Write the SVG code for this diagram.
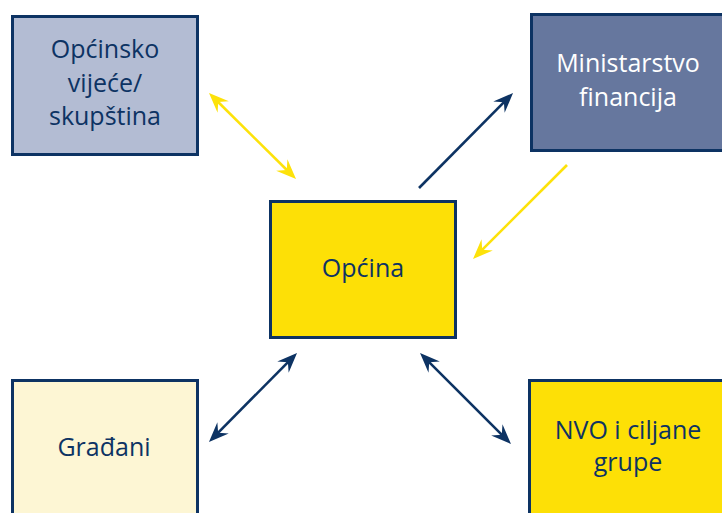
<svg xmlns="http://www.w3.org/2000/svg" width="722" height="513" viewBox="0 0 722 513">
<style>
.box{stroke:#0d3363;stroke-width:3}
.t{font-family:"Open Sans","Noto Sans",sans-serif;font-size:25px;fill:#0d3363;text-anchor:middle}
.w{fill:#ffffff}
.ln{fill:none;stroke-width:2.6}
.nv{stroke:#0d3363}
.yl{stroke:#fde20a}
</style>
<defs>
<marker id="hn" markerUnits="userSpaceOnUse" viewBox="-11 -9 22 18" markerWidth="22" markerHeight="18" refX="0" refY="0" orient="auto-start-reverse">
<path d="M10,0 L-10,-8 L-3,0 L-10,8 Z" fill="#0d3363"/>
</marker>
<marker id="hy" markerUnits="userSpaceOnUse" viewBox="-11 -9 22 18" markerWidth="22" markerHeight="18" refX="0" refY="0" orient="auto-start-reverse">
<path d="M10,0 L-10,-8 L-3,0 L-10,8 Z" fill="#fde20a"/>
</marker>
</defs>
<rect width="722" height="513" fill="#ffffff"/>
<g id="vijece">
<rect class="box" x="12.5" y="16.5" width="185" height="138" fill="#b3bcd3"/>
<text class="t" x="105" y="58">Općinsko</text>
<text class="t" x="105" y="92">vijeće/</text>
<text class="t" x="105" y="125">skupština</text>
</g>
<g id="ministarstvo">
<rect class="box" x="531.5" y="14.5" width="205" height="136" fill="#66779e"/>
<text class="t w" x="628" y="72">Ministarstvo</text>
<text class="t w" x="628" y="106">financija</text>
</g>
<g id="opcina">
<rect class="box" x="270.5" y="201.5" width="185" height="136" fill="#fde006"/>
<text class="t" x="363" y="277">Općina</text>
</g>
<g id="gradani">
<rect class="box" x="12.5" y="380.5" width="185" height="145" fill="#fdf6d4"/>
<text class="t" x="104" y="456">Građani</text>
</g>
<g id="nvo">
<rect class="box" x="529.5" y="380.5" width="205" height="145" fill="#fde006"/>
<text class="t" x="628" y="439">NVO i ciljane</text>
<text class="t" x="628" y="471">grupe</text>
</g>
<g id="connectors">
<path class="ln yl" d="M216.1,100 L288.9,172" marker-start="url(#hy)" marker-end="url(#hy)"/>
<path class="ln nv" d="M419,188 L506,100.1" marker-end="url(#hn)"/>
<path class="ln yl" d="M567,165 L480.1,251.9" marker-end="url(#hy)"/>
<path class="ln nv" d="M290,360.1 L216,434.9" marker-start="url(#hn)" marker-end="url(#hn)"/>
<path class="ln nv" d="M427.1,360.1 L503.9,436.9" marker-start="url(#hn)" marker-end="url(#hn)"/>
</g>
</svg>
